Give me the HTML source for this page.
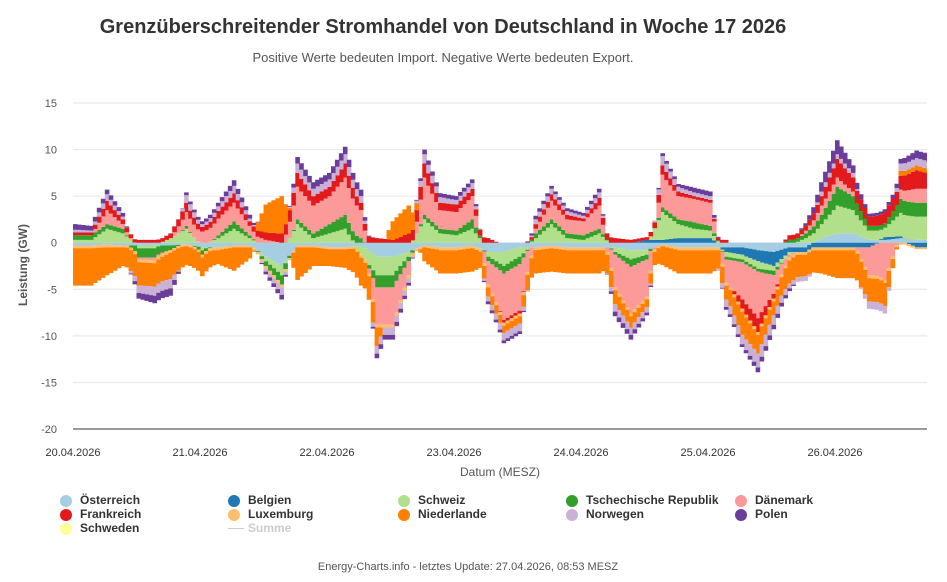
<!DOCTYPE html>
<html><head><meta charset="utf-8">
<style>
body{margin:0;background:#fff;font-family:"Liberation Sans",sans-serif;}
#wrap{position:relative;width:947px;height:582px;overflow:hidden;}
.t{position:absolute;white-space:nowrap;}
.leg{position:absolute;font-size:12px;font-weight:bold;color:#333;}
.leg span.d{position:absolute;left:-20px;top:2px;width:12px;height:12px;border-radius:50%;}
</style></head>
<body><div id="wrap">
<div class="t" style="left:0;width:886px;text-align:center;top:16px;font-size:20px;font-weight:bold;color:#333;">Grenzüberschreitender Stromhandel von Deutschland in Woche 17 2026</div>
<div class="t" style="left:0;width:886px;text-align:center;top:50px;font-size:13px;color:#555;">Positive Werte bedeuten Import. Negative Werte bedeuten Export.</div>
<div class="t" style="left:-22px;top:258px;width:90px;text-align:center;transform:rotate(-90deg);font-size:12px;font-weight:bold;color:#555;">Leistung (GW)</div>
<div class="t" style="left:400px;width:200px;text-align:center;top:465px;font-size:12px;color:#555;">Datum (MESZ)</div>
<div class="t" style="left:268px;width:400px;text-align:center;top:561px;font-size:11px;color:#555;">Energy-Charts.info - letztes Update: 27.04.2026, 08:53 MESZ</div>
<svg id="svg" width="947" height="582" style="position:absolute;left:0;top:0"></svg>
<div id="legend"></div>
</div>
<script>
const hours=[0,3,6,9,12,15,18,21,24,27,30,33,36,39,42,45,48,51,54,57,60,63,66,69,72,75,78,81,84,87,90,93,96,99,102,105,108,111,114,117,120,123,126,129,132,135,138,141,144,147,150,153,156,159,162];
const seriesNames=["Österreich","Belgien","Schweiz","Tschechische Republik","Dänemark","Frankreich","Luxemburg","Niederlande","Norwegen","Polen","Schweden"];
const seriesColors=["#a6cee3","#1f78b4","#b2df8a","#33a02c","#fb9a99","#e31a1c","#fdbf6f","#ff7f00","#cab2d6","#6a3d9a","#ffff99"];
const at=[-0.3,-0.3,-0.2,-0.3,-0.3,-0.3,-0.3,-0.2,-0.5,-0.5,-0.3,-0.3,-1.5,-2.5,-0.3,-0.3,-0.5,-0.5,-0.3,-1.5,-1.5,-1,-0.3,-0.5,-0.5,-0.3,-1,-1,-0.5,-0.5,-0.3,-0.5,-0.5,-0.5,-0.5,-0.8,-0.8,-0.2,-0.5,-0.5,-0.5,-0.5,-0.5,-0.8,-1,-0.5,-0.5,0.5,1,1,0.3,0.3,0.5,0.3,0.3];
const be=[0,0,0,0,0,0,0,0,0,0,0,0,0,0,0,0,0,0,0,0,0,0,0,0,0,0,0,0,0,0,0,0,0,0,0,0,0.3,0.3,0.5,0.5,0.5,-0.5,-0.8,-1.2,-1.5,-0.5,-0.5,-0.5,-0.5,-0.5,-0.5,0.3,0.2,-0.5,-0.5];
const ch=[0.3,0.3,1.5,1,-0.3,-0.3,0.5,1.5,-0.3,0.5,1.5,0.5,-0.5,-1,2,0.5,1,1.5,-1,-2,-2,-0.5,2.5,1,0.8,1.5,-0.5,-1.5,-1,0.5,2,0.5,0.3,1,-0.5,-1,-0.5,3,1.5,1,0.8,-0.5,-0.5,-0.8,-0.5,-0.3,0.5,1.5,3,2.5,1,1,2.5,2.5,2.5];
const cz=[0.5,0.5,0.5,0.5,-1,-1,-0.5,0.3,-0.5,0.3,0.8,0.3,-0.5,-1,0.5,0.5,1,1.5,0.5,-1.3,-1.3,-0.5,0.5,0.5,0.5,1,-0.5,-0.8,-0.8,0.5,0.5,0.5,0.5,0.5,-0.3,-0.8,-0.5,0.5,0.5,0.7,0.5,-0.3,-0.3,-0.3,-0.5,0.3,0.5,1,2,1.5,0.5,0.5,1.5,1.5,1.5];
const dk=[0,0,1.5,0.5,-0.2,-0.3,0,1.5,1.2,1.8,2,1,0.3,0,3.5,3,3,4,3,-4,-4,-1.5,4,2,2,2.5,-2.5,-5,-5,0.5,2,1.5,1.5,2.5,-3.5,-5,-4,3.5,2.5,2.5,2.5,-2.5,-4,-5,-2,-0.3,0.3,1,1,0.5,-3,-4,1,1.5,1.5];
const fr=[0.3,0.3,1,0.5,0.3,0.3,0.5,1,0.5,0.8,1,0.5,0.8,1,1.5,1,1,1.5,0.8,0.5,0.3,1,1.5,0.8,0.8,0.8,0.5,-0.3,-0.3,0.5,0.7,0.5,0.3,0.8,0.5,0.3,0.3,1,0.5,0.3,0.3,0.3,-1,-1.5,-0.5,0.5,0.5,1,2,1.5,1,1.2,1.5,2,1.5];
const lu=[-0.3,-0.3,-0.3,-0.2,-0.3,-0.3,-0.3,-0.2,-0.3,-0.3,-0.2,-0.2,-0.3,-0.3,-0.2,-0.2,-0.2,-0.2,-0.3,-0.3,-0.3,-0.3,-0.2,-0.3,-0.3,-0.3,-0.3,-0.3,-0.3,-0.3,-0.3,-0.3,-0.3,-0.3,-0.3,-0.3,-0.3,-0.2,-0.3,-0.3,-0.3,-0.3,-0.3,-0.3,-0.3,-0.3,-0.3,-0.3,-0.3,-0.3,-0.3,-0.3,-0.2,-0.2,-0.2];
const nl=[-4,-4,-3,-2,-2.5,-2.5,-2.8,-2,-2,-1.5,-2.5,-1.2,3,4,-3.5,-2,-1.8,-2,-3,-2,2,3,-1.5,-2.5,-2.5,-2.5,-1,-0.8,-0.8,-2.5,-2.5,-2.5,-2.5,-2.5,-1.5,-1.2,-0.8,-2,-2.5,-2.5,-2.5,-1.5,-2.5,-2,-1.5,-2.5,-2.3,-2.5,-3,-3,-2.5,-2.5,0.5,0.5,0.5];
const no=[0.3,0.2,0.7,0.3,-0.8,-1,-1,0.8,0.3,0.5,0.8,0.3,-0.3,-0.8,1,0.8,0.8,1,0.7,-0.8,-0.8,-0.5,1,0.6,0.5,0.6,-0.5,-0.8,-0.8,0.5,0.6,0.4,0.3,0.6,-0.8,-0.8,-0.6,1,0.5,0.4,0.4,-0.8,-1,-1.5,-1,-0.5,-0.5,0.5,0.5,0.5,-0.8,-0.8,0.8,0.8,0.8];
const pl=[0.6,0.5,0.5,0.4,-0.6,-0.8,-0.8,0.3,0.3,0.4,0.6,0.4,-0.3,-0.5,0.7,0.7,0.7,0.8,0.7,-0.5,-0.5,-0.3,0.5,0.4,0.4,0.4,-0.3,-0.3,-0.3,0.4,0.3,0.3,0.3,0.4,-0.5,-0.5,-0.3,0.3,0.3,0.5,0.5,-0.3,-0.3,-0.5,-0.5,-0.3,0.3,1,1.5,0.8,0.3,0.3,0.5,0.8,0.8];
const se=hours.map(()=>0);
const seriesValues=[at,be,ch,cz,dk,fr,lu,nl,no,pl,se];
const yTicks=[15,10,5,0,-5,-10,-15,-20];
const xLabels=["20.04.2026","21.04.2026","22.04.2026","23.04.2026","24.04.2026","25.04.2026","26.04.2026"];

const X0=73,X1=927,PXDAY=127,YTOP=103,YBOT=429,YMAX=15,YMIN=-20;
const xS=h=>X0+h/24*PXDAY;
const yS=v=>YTOP+(YMAX-v)/(YMAX-YMIN)*(YBOT-YTOP);
const NS="http://www.w3.org/2000/svg";
const svg=document.getElementById('svg');
function mk(t,a){const e=document.createElementNS(NS,t);for(const k in a)e.setAttribute(k,a[k]);return e;}
const defs=mk('defs',{});const cp=mk('clipPath',{id:'pc'});cp.appendChild(mk('rect',{x:X0,y:YTOP-10,width:X1-X0,height:YBOT-YTOP+10}));defs.appendChild(cp);svg.appendChild(defs);
yTicks.forEach(v=>{
  const g=mk('line',{x1:X0,x2:X1,y1:yS(v),y2:yS(v),stroke:v===-20?'#333':'#e6e6e6','stroke-width':1});
  
  
  svg.appendChild(g);
  const t=mk('text',{x:57,y:yS(v)+4,'text-anchor':'end','font-size':11,fill:'#555','font-family':'Liberation Sans, sans-serif'});
  t.textContent=v;
  
  
  svg.appendChild(t);
});
xLabels.forEach((l,i)=>{
  const t=mk('text',{x:xS(i*24),y:456,'text-anchor':'middle','font-size':11,fill:'#333','font-family':'Liberation Sans, sans-serif'});
  t.textContent=l;
  
  
  svg.appendChild(t);
});
const g=mk('g',{'clip-path':'url(#pc)'});svg.appendChild(g);
// render columns: sub-sample between data points for smooth stacked columns
const SUB=4;
const cols=[];
for(let i=0;i<hours.length;i++){
  const nxt=Math.min(i+1,hours.length-1);
  for(let s=0;s<SUB;s++){
    const f=s/SUB;
    const h=hours[i]+(hours[nxt]-hours[i]||3)*f;
    cols.push({h:h,w:3/SUB,vals:seriesValues.map(a=>a[i]+(a[nxt]-a[i])*f)});
  }
}
const paths=seriesValues.map(()=>[]);
cols.forEach(c=>{
  let pb=0,nb=0;
  const x=xS(c.h),w=xS(c.h+c.w)-x+0.6;
  c.vals.forEach((v,si)=>{
    let y0,y1;
    if(v>=0){y0=yS(pb+v);y1=yS(pb);pb+=v;}else{y0=yS(nb);y1=yS(nb+v);nb+=v;}
    if(y1-y0>0.05)paths[si].push('M'+x.toFixed(1)+' '+y0.toFixed(1)+'h'+w.toFixed(1)+'V'+y1.toFixed(1)+'h'+(-w).toFixed(1)+'z');
  });
});
paths.forEach((d,si)=>{
  const p=mk('path',{d:d.join(''),fill:seriesColors[si]});
  
  
  g.appendChild(p);
});
const legPos=[[80,493],[248,493],[418,493],[586,493],[755,493],[80,507],[248,507],[418,507],[586,507],[755,507],[80,521]];
const legend=document.getElementById('legend');
seriesNames.forEach((n,si)=>{
  const d=document.createElement('div');d.className='leg';
  d.style.left=legPos[si][0]+'px';d.style.top=legPos[si][1]+'px';
  d.innerHTML='<span class="d" style="background:'+seriesColors[si]+'"></span>'+n;
  
  
  legend.appendChild(d);
});
const s=document.createElement('div');s.className='leg';s.style.left='248px';s.style.top='521px';s.style.color='#ccc';
s.innerHTML='<span style="position:absolute;left:-20px;top:7px;width:16px;height:1px;background:#ccc"></span>Summe';


legend.appendChild(s);
</script>
</body></html>
